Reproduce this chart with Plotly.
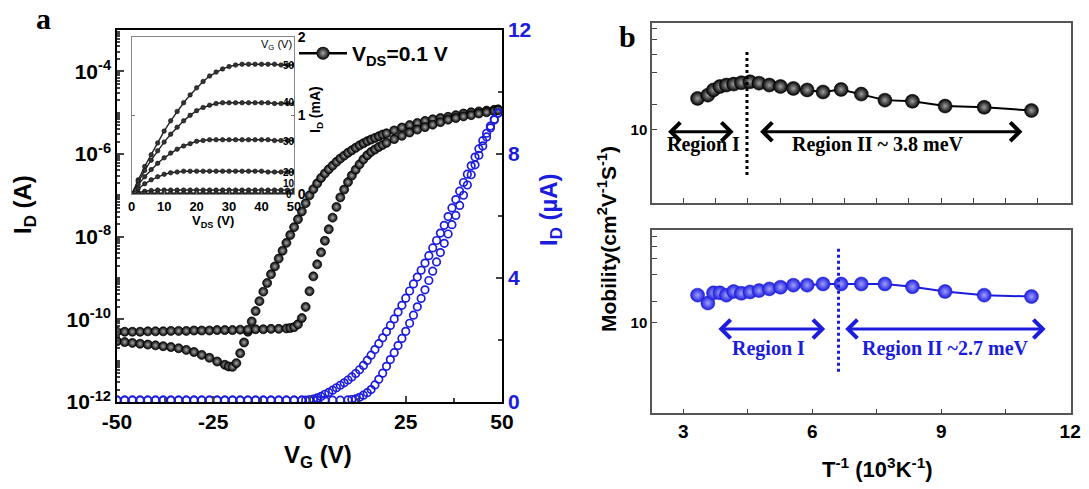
import plotly.graph_objects as go

W, H = 1089, 489


def px(x):
    return x / W


def py(y):
    return 1 - y / H


# ---------------- panel a : transfer curves (log scale, black) ----------------
vg_a = [-50, -48, -46, -44, -42, -40, -38, -36, -34, -32, -30, -28, -26, -24, -22,
        -21, -20, -19, -18, -17, -16, -15, -14, -13, -12, -11, -10, -9, -8, -7, -6,
        -5, -4, -3, -2, -1, 0, 1, 2, 3, 4, 5, 6, 7, 8, 9, 10, 11, 12, 13, 14, 15, 16,
        17, 18, 19, 20, 22, 24, 26, 28, 30, 32, 34, 36, 38, 40, 42, 44, 46, 48, 49]
log_id_a = [-10.53, -10.55, -10.57, -10.59, -10.61, -10.63, -10.65, -10.67, -10.70, -10.74,
            -10.79, -10.86, -10.93, -11.02, -11.10, -11.14, -11.15, -11.06, -10.82, -10.56,
            -10.30, -10.05, -9.80, -9.56, -9.33, -9.12, -8.91, -8.72, -8.53, -8.34, -8.15,
            -7.96, -7.77, -7.58, -7.39, -7.19, -7.00, -6.85, -6.71, -6.58, -6.47, -6.37,
            -6.28, -6.19, -6.11, -6.04, -5.97, -5.91, -5.85, -5.79, -5.74, -5.69, -5.65,
            -5.61, -5.57, -5.53, -5.50, -5.43, -5.36, -5.30, -5.25, -5.20, -5.16, -5.13,
            -5.10, -5.06, -5.02, -4.99, -4.97, -4.95, -4.93, -4.92]

vg_b = [-50, -48, -46, -44, -42, -40, -38, -36, -34, -32, -30, -28, -26, -24, -22, -20,
        -18, -16, -14, -12, -10, -8, -6, -5, -4, -3, -2, -1, 0, 1, 2, 3, 4, 5, 6, 7, 8,
        9, 10, 11, 12, 13, 14, 15, 16, 17, 18, 19, 20, 22, 24, 26, 28, 30, 32, 34, 36,
        38, 40, 42, 44, 46, 48, 49]
log_id_b = [-10.30, -10.30, -10.30, -10.30, -10.29, -10.29, -10.29, -10.28, -10.28, -10.28,
            -10.27, -10.27, -10.27, -10.26, -10.26, -10.26, -10.25, -10.25, -10.24, -10.24,
            -10.23, -10.23, -10.22, -10.21, -10.19, -10.12, -9.97, -9.70, -9.32, -8.96,
            -8.67, -8.38, -8.10, -7.82, -7.54, -7.28, -7.05, -6.86, -6.68, -6.52, -6.38,
            -6.25, -6.13, -6.03, -5.95, -5.89, -5.83, -5.78, -5.73, -5.64, -5.56, -5.48,
            -5.41, -5.35, -5.29, -5.23, -5.17, -5.13, -5.09, -5.06, -5.02, -4.99, -4.96,
            -4.94]

# ---------------- panel a : transfer curves (linear, blue, uA) ----------------
vg_bl = [-50, -48, -46, -44, -42, -40, -38, -36, -34, -32, -30, -28, -26, -24, -22, -20,
         -18, -16, -14, -12, -10, -8, -6, -4, -2, -1, 0, 1, 2, 3, 4, 5, 6, 7, 8, 9, 10,
         11, 12, 13, 14, 15, 16, 17, 18, 19, 20, 21, 22, 23, 24, 25, 26, 27, 28, 29, 30,
         31, 32, 33, 34, 35, 36, 37, 38, 39, 40, 41, 42, 43, 44, 45, 46, 47, 48, 49]
id_bl = [0.06, 0.06, 0.06, 0.06, 0.06, 0.06, 0.06, 0.06, 0.06, 0.06, 0.06, 0.06, 0.06,
         0.06, 0.06, 0.06, 0.06, 0.06, 0.06, 0.06, 0.06, 0.06, 0.06, 0.06, 0.06, 0.06,
         0.07, 0.09, 0.13, 0.18, 0.25, 0.31, 0.38, 0.46, 0.54, 0.62, 0.71, 0.81, 0.92,
         1.04, 1.18, 1.34, 1.51, 1.69, 1.88, 2.07, 2.27, 2.47, 2.68, 2.90, 3.12, 3.35,
         3.58, 3.81, 4.03, 4.25, 4.48, 4.72, 4.97, 5.21, 5.45, 5.70, 5.98, 6.26, 6.53,
         6.80, 7.08, 7.35, 7.62, 7.90, 8.17, 8.43, 8.67, 8.90, 9.12, 9.32]

vg_br = [-50, -48, -46, -44, -42, -40, -38, -36, -34, -32, -30, -28, -26, -24, -22, -20,
         -18, -16, -14, -12, -10, -8, -6, -4, -2, 0, 2, 4, 6, 8, 10, 11, 12, 13, 14, 15,
         16, 17, 18, 19, 20, 21, 22, 23, 24, 25, 26, 27, 28, 29, 30, 31, 32, 33, 34, 35,
         36, 37, 38, 39, 40, 41, 42, 43, 44, 45, 46, 47, 48, 49]
id_br = [0.06, 0.06, 0.06, 0.06, 0.06, 0.06, 0.06, 0.06, 0.06, 0.06, 0.06, 0.06, 0.06,
         0.06, 0.06, 0.06, 0.06, 0.06, 0.06, 0.06, 0.06, 0.06, 0.06, 0.06, 0.06, 0.06,
         0.06, 0.06, 0.06, 0.06, 0.07, 0.08, 0.10, 0.15, 0.22, 0.30, 0.40, 0.55, 0.73,
         0.93, 1.15, 1.37, 1.59, 1.82, 2.05, 2.28, 2.54, 2.80, 3.07, 3.34, 3.62, 3.92,
         4.22, 4.52, 4.82, 5.12, 5.42, 5.72, 6.02, 6.34, 6.67, 7.00, 7.33, 7.65, 7.96,
         8.26, 8.55, 8.84, 9.10, 9.32]

# ---------------- inset : output curves (mA) ----------------
vds = [0, 2, 4, 6, 8, 10, 12, 14, 16, 18, 20, 22, 24, 26, 28, 30, 32, 34, 36, 38, 40,
       42, 44, 46, 48, 50]
inset_curves = {
    "50": [0, 0.18, 0.35, 0.50, 0.65, 0.80, 0.93, 1.05, 1.16, 1.26, 1.35, 1.43, 1.50,
           1.55, 1.59, 1.62, 1.64, 1.65, 1.65, 1.65, 1.65, 1.65, 1.65, 1.64, 1.64, 1.64],
    "40": [0, 0.16, 0.30, 0.43, 0.55, 0.66, 0.76, 0.85, 0.93, 1.00, 1.06, 1.10, 1.13,
           1.15, 1.16, 1.16, 1.16, 1.16, 1.16, 1.16, 1.16, 1.16, 1.15, 1.15, 1.15, 1.15],
    "30": [0, 0.12, 0.22, 0.31, 0.39, 0.46, 0.52, 0.57, 0.61, 0.64, 0.67, 0.68, 0.69,
           0.69, 0.69, 0.69, 0.69, 0.69, 0.69, 0.69, 0.69, 0.69, 0.68, 0.68, 0.68, 0.68],
    "20": [0, 0.07, 0.13, 0.18, 0.22, 0.25, 0.27, 0.28, 0.29, 0.29, 0.29, 0.29, 0.29,
           0.29, 0.29, 0.29, 0.29, 0.29, 0.29, 0.29, 0.29, 0.28, 0.28, 0.28, 0.28, 0.28],
    "10": [0, 0.02, 0.035, 0.045, 0.05, 0.05, 0.05, 0.05, 0.05, 0.05, 0.05, 0.05, 0.05,
           0.05, 0.05, 0.05, 0.05, 0.05, 0.05, 0.05, 0.05, 0.05, 0.05, 0.05, 0.05, 0.05],
    "0": [0, 0.005, 0.01, 0.01, 0.01, 0.01, 0.01, 0.01, 0.01, 0.01, 0.01, 0.01, 0.01,
          0.01, 0.01, 0.01, 0.01, 0.01, 0.01, 0.01, 0.01, 0.01, 0.01, 0.01, 0.01, 0.01],
}

# ---------------- panel b : mobility vs 1/T ----------------
t_inv = [3.33, 3.57, 3.70, 3.85, 4.00, 4.17, 4.35, 4.55, 4.76, 5.00, 5.26, 5.56, 5.88,
         6.25, 6.67, 7.14, 7.69, 8.33, 9.09, 10.0, 11.1]
mu_top = [14.6, 15.2, 16.2, 16.9, 17.2, 17.4, 17.7, 17.9, 17.6, 17.2, 16.9, 16.5, 16.2,
          15.8, 16.3, 15.4, 14.3, 14.1, 13.3, 13.1, 12.6]
mu_bot = [14.8, 13.2, 15.3, 15.3, 14.8, 15.6, 15.2, 15.5, 15.8, 16.2, 16.6, 17.1, 17.1,
          17.4, 17.4, 17.4, 17.4, 16.7, 15.6, 14.8, 14.5]

BLUE = "#1c1cdc"
SANS = "Liberation Sans, Arial, sans-serif"
SERIF = "Liberation Serif, Times New Roman, serif"

fig = go.Figure()

black_marker = dict(size=9, color="black", line=dict(width=0.7, color="black"),
                    gradient=dict(type="radial", color="#a8a8a8"))

for xs, ls in ((vg_a, log_id_a), (vg_b, log_id_b)):
    fig.add_trace(go.Scatter(x=xs, y=[10 ** v for v in ls], mode="markers",
                             marker=black_marker, xaxis="x", yaxis="y",
                             showlegend=False, hoverinfo="skip"))

for xs, ys in ((vg_bl, id_bl), (vg_br, id_br)):
    fig.add_trace(go.Scatter(x=xs, y=ys, mode="markers",
                             marker=dict(symbol="circle-open", size=7.5, color=BLUE,
                                         line=dict(width=1.7, color=BLUE)),
                             xaxis="x", yaxis="y2", showlegend=False, hoverinfo="skip"))

# legend entry
fig.add_trace(go.Scatter(x=[None], y=[None], mode="lines+markers",
                         line=dict(color="black", width=2.5),
                         marker=dict(size=13, color="black",
                                     gradient=dict(type="radial", color="#a8a8a8")),
                         name="V<sub>DS</sub>=0.1 V", xaxis="x", yaxis="y",
                         showlegend=True))

for key, ys in inset_curves.items():
    fig.add_trace(go.Scatter(x=vds, y=ys, mode="lines+markers",
                             line=dict(color="#222", width=1.4),
                             marker=dict(size=4.5, color="#333",
                                         line=dict(width=0.6, color="#111")),
                             xaxis="x2", yaxis="y3", showlegend=False, hoverinfo="skip"))

fig.add_trace(go.Scatter(x=t_inv, y=mu_top, mode="lines+markers",
                         line=dict(color="black", width=2),
                         marker=dict(size=14, color="black",
                                     gradient=dict(type="radial", color="#a0a0a0"),
                                     line=dict(width=0.5, color="black")),
                         xaxis="x3", yaxis="y4", showlegend=False))
fig.add_trace(go.Scatter(x=t_inv, y=mu_bot, mode="lines+markers",
                         line=dict(color=BLUE, width=2),
                         marker=dict(size=14, color=BLUE,
                                     gradient=dict(type="radial", color="#a0a0ff"),
                                     line=dict(width=0.5, color=BLUE)),
                         xaxis="x4", yaxis="y5", showlegend=False))

bold = dict(family=SANS, weight="bold", color="black")

minor_log = [m * 10 ** e for e in range(-12, -3) for m in range(1, 10)]

b_ytick = [10, 13.5, 20, 25, 30, 34.5]
b_ytxt = ["10", "", "", "", "", ""]

common = dict(automargin=False, showgrid=False, zeroline=False)

fig.update_layout(
    width=W, height=H, autosize=False,
    margin=dict(l=0, r=0, t=0, b=0, pad=0),
    paper_bgcolor="white", plot_bgcolor="white",
    font=dict(family=SANS, color="black"),
    xaxis=dict(domain=[px(117), px(502)], anchor="y", range=[-50, 50],
               tickvals=[-50, -25, 0, 25, 50], ticktext=["-50", "-25", "0", "25", "50"],
               ticks="inside", ticklen=6, tickwidth=1.5,
               minor=dict(ticks="inside", ticklen=4, dtick=12.5, tick0=0),
               showline=True, linecolor="black", linewidth=1.5, mirror=True,
               tickfont=dict(bold, size=21), **common),
    yaxis=dict(domain=[py(402), py(30)], anchor="x", type="log", range=[-12, -3],
               tickvals=[1e-12, 1e-10, 1e-8, 1e-6, 1e-4],
               ticktext=["10<sup>-12</sup>", "10<sup>-10</sup>", "10<sup>-8</sup>",
                         "10<sup>-6</sup>", "10<sup>-4</sup>"],
               ticks="inside", ticklen=7, tickwidth=1.5,
               minor=dict(ticks="inside", ticklen=3, tickvals=minor_log),
               showline=True, linecolor="black", linewidth=1.5,
               tickfont=dict(bold, size=21), **common),
    yaxis2=dict(overlaying="y", anchor="x", side="right", range=[0, 12],
                tickvals=[0, 4, 8, 12], ticks="inside", ticklen=6, tickwidth=1.5,
                minor=dict(ticks="inside", ticklen=4, dtick=2, tick0=0),
                showline=True, linecolor="black", linewidth=1.5,
                tickfont=dict(family=SANS, weight="bold", size=21, color=BLUE), **common),
    xaxis2=dict(domain=[px(131.7), px(294)], anchor="y3", range=[0, 50], dtick=10,
                ticks="inside", ticklen=3, tickcolor="#777",
                showline=True, linecolor="#888", linewidth=1, mirror=True,
                tickfont=dict(bold, size=13), **common),
    yaxis3=dict(domain=[py(194), py(36.7)], anchor="x2", side="right", range=[0, 2],
                dtick=1, ticks="inside", ticklen=3, tickcolor="#777",
                showline=True, linecolor="#888", linewidth=1, mirror="ticks",
                tickfont=dict(bold, size=14), **common),
    xaxis3=dict(domain=[px(652), px(1071)], anchor="y4", range=[2.27, 12.02],
                tick0=3, dtick=0.75, ticks="inside", ticklen=5, tickcolor="#444",
                showticklabels=False, showline=True, linecolor="#555", linewidth=1.5,
                mirror=True, **common),
    yaxis4=dict(domain=[py(202.7), py(22.7)], anchor="x3", type="log",
                range=[0.61, 1.567], tickvals=b_ytick, ticktext=b_ytxt,
                ticks="inside", ticklen=5, tickcolor="#444",
                showline=True, linecolor="#555", linewidth=1.5, mirror=True,
                tickfont=dict(bold, size=15), **common),
    xaxis4=dict(domain=[px(652), px(1071)], anchor="y5", range=[2.27, 12.02],
                tickvals=[3, 6, 9, 12], ticks="inside", ticklen=5, tickcolor="#444",
                minor=dict(ticks="inside", ticklen=5, dtick=1.5, tick0=3,
                           tickcolor="#444"),
                showline=True, linecolor="#555", linewidth=1.5, mirror=True,
                tickfont=dict(bold, size=19), **common),
    yaxis5=dict(domain=[py(413.3), py(230)], anchor="x4", type="log",
                range=[0.429, 1.579], tickvals=b_ytick, ticktext=b_ytxt,
                ticks="inside", ticklen=5, tickcolor="#444",
                showline=True, linecolor="#555", linewidth=1.5, mirror=True,
                tickfont=dict(bold, size=15), **common),
    legend=dict(x=px(294), y=py(33), xanchor="left", yanchor="top",
                bgcolor="rgba(0,0,0,0)", borderwidth=0,
                font=dict(bold, size=21), itemwidth=48),
)

ann = []


def label(text, x, y, size, angle=0, color="black", family=SANS, weight="bold"):
    ann.append(dict(text=text, x=px(x), y=py(y), xref="paper", yref="paper",
                    showarrow=False, textangle=angle, xanchor="center",
                    yanchor="middle",
                    font=dict(family=family, size=size, color=color, weight=weight)))


label("a", 43, 18, 30, family=SERIF)
label("b", 627, 37, 30, family=SERIF)
label("I<sub>D</sub> (A)", 24, 205, 24, angle=-90)
label("I<sub>D</sub> (µA)", 551, 210, 24, angle=-90, color=BLUE)
label("V<sub>G</sub> (V)", 318, 456, 24)
label("V<sub>DS</sub> (V)", 213, 221, 13)
label("I<sub>D</sub> (mA)", 316, 110, 14, angle=-90)
label("V<sub>G</sub> (V)", 276, 45, 11, weight="normal")
for txt, yy in (("50", 65), ("40", 103), ("30", 141), ("20", 172), ("10", 183), ("0", 194)):
    label(txt, 289, yy, 10)
label("Mobility(cm<sup>2</sup>V<sup>-1</sup>S<sup>-1</sup>)", 607, 239, 21, angle=-90)
label("T<sup>-1</sup> (10<sup>3</sup>K<sup>-1</sup>)", 877, 468, 22)


def region(text, x, xr, yr, y, color):
    ann.append(dict(text=text, x=x, y=y, xref=xr, yref=yr, showarrow=False,
                    font=dict(family=SERIF, size=20, color=color, weight="bold")))


def arrow(x0, x1, xr, yr, y, color):
    ann.append(dict(text="", x=x1, y=y, ax=x0, ay=y, xref=xr, yref=yr, axref=xr,
                    ayref=yr, showarrow=True, arrowside="end+start", arrowhead=4,
                    startarrowhead=4, arrowsize=1.2, startarrowsize=1.2,
                    arrowwidth=3, arrowcolor=color, standoff=0, startstandoff=0))


region("Region I", 3.46, "x3", "y4 domain", 0.248, "black")
region("Region II ~ 3.8 meV", 7.54, "x3", "y4 domain", 0.248, "black")
arrow(2.61, 4.17, "x3", "y4 domain", 0.394, "black")
arrow(4.75, 10.89, "x3", "y4 domain", 0.394, "black")
region("Region I", 4.98, "x4", "y5 domain", 0.282, BLUE)
region("Region II ~2.7 meV", 9.1, "x4", "y5 domain", 0.282, BLUE)
arrow(3.78, 6.30, "x4", "y5 domain", 0.46, BLUE)
arrow(6.73, 11.43, "x4", "y5 domain", 0.46, BLUE)

fig.update_layout(annotations=ann)

fig.add_shape(type="line", xref="x3", yref="y4 domain", x0=4.48, x1=4.48,
              y0=0.154, y1=0.839, line=dict(color="black", width=3, dash="dot"))
fig.add_shape(type="line", xref="x4", yref="y5 domain", x0=6.61, x1=6.61,
              y0=0.227, y1=0.909, line=dict(color=BLUE, width=3, dash="dot"))

fig.write_html("out.html")
